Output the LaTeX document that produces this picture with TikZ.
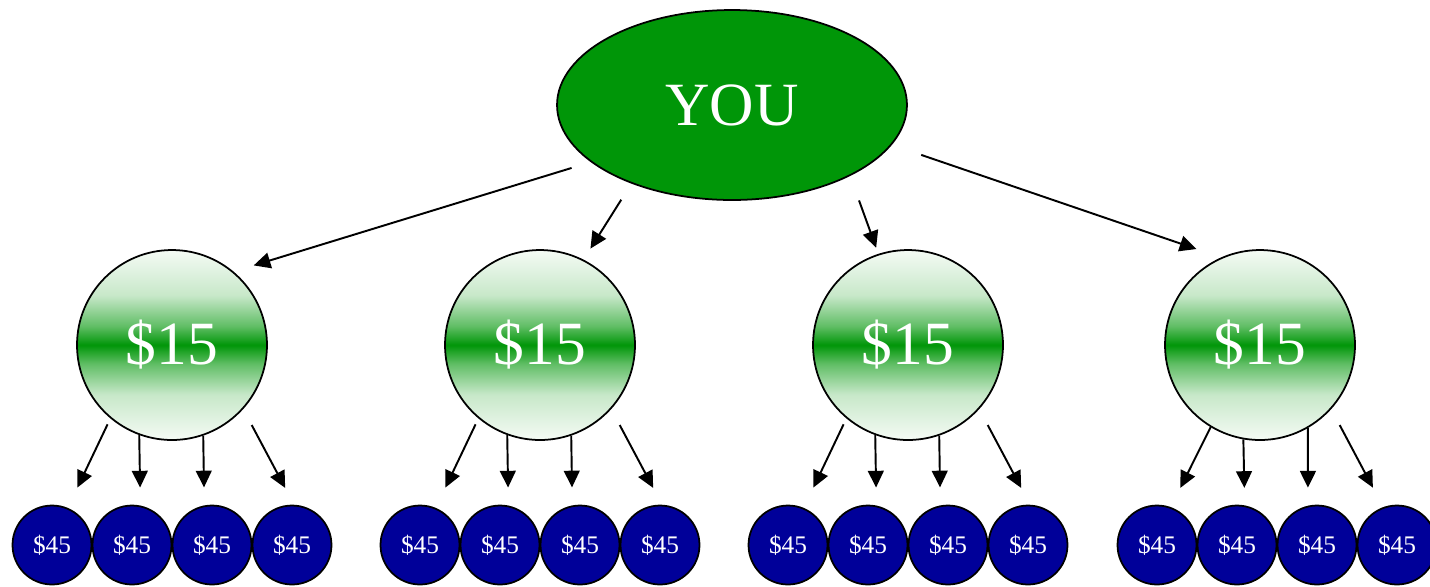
\documentclass[tikz,border=0pt]{standalone}
\usepackage{fontspec}
\setmainfont{Liberation Serif}
\usetikzlibrary{shapes.geometric,arrows.meta}
\definecolor{yougreen}{RGB}{0,150,8}
\definecolor{lowblue}{RGB}{0,0,153}
\pgfdeclareverticalshading{midshade}{100bp}{color(0bp)=(white); color(25bp)=(white!96!yougreen);
  color(37bp)=(yougreen!22); color(45bp)=(yougreen!62); color(50bp)=(yougreen);
  color(55bp)=(yougreen!62); color(63bp)=(yougreen!22); color(75bp)=(white!96!yougreen); color(100bp)=(white)}
\tikzset{
  topnode/.style={ellipse,draw,line width=1pt,fill=yougreen,minimum width=7.0cm,minimum height=3.8cm,
    inner sep=0pt,text=white,font=\fontsize{35}{40}\selectfont},
  midnode/.style={circle,draw,line width=1pt,shade,shading=midshade,
    minimum size=3.8cm,inner sep=0pt,text=white,font=\fontsize{35}{40}\selectfont},
  lownode/.style={circle,draw,line width=1pt,fill=lowblue,minimum size=1.58cm,
    inner sep=0pt,text=white,font=\fontsize{14.4}{16}\selectfont},
  arr/.style={line width=1.1pt,-{Triangle[length=9.5pt,width=9pt]}}
}
\begin{document}
\begin{tikzpicture}[x=0.02cm,y=-0.02cm]
\useasboundingbox (0,0) rectangle (1430,586);

%top node
\node[topnode] (you) at (732,105) {YOU};

%middle row
\node[midnode] (mid1) at (172,345) {\$15};
\node[midnode] (mid2) at (540,345) {\$15};
\node[midnode] (mid3) at (908,345) {\$15};
\node[midnode] (mid4) at (1260,345) {\$15};

%bottom row
\node[lownode] (low11) at (52,545) {\$45};
\node[lownode] (low12) at (132,545) {\$45};
\node[lownode] (low13) at (212,545) {\$45};
\node[lownode] (low14) at (292,545) {\$45};

\node[lownode] (low21) at (420,545) {\$45};
\node[lownode] (low22) at (500,545) {\$45};
\node[lownode] (low23) at (580,545) {\$45};
\node[lownode] (low24) at (660,545) {\$45};

\node[lownode] (low31) at (788,545) {\$45};
\node[lownode] (low32) at (868,545) {\$45};
\node[lownode] (low33) at (948,545) {\$45};
\node[lownode] (low34) at (1028,545) {\$45};

\node[lownode] (low41) at (1157,545) {\$45};
\node[lownode] (low42) at (1237,545) {\$45};
\node[lownode] (low43) at (1317,545) {\$45};
\node[lownode] (low44) at (1397,545) {\$45};

%arrows from the top
\draw[arr, shorten <=0.4cm, shorten >=0.42cm] (you.202.6) -- (mid1.50.4);
\draw[arr, shorten <=0.38cm, shorten >=0.26cm] (you.218.1) -- (mid2.63.5);
\draw[arr, shorten <=0.52cm, shorten >=0.13cm] (you.329.7) -- (mid3.108.9);
\draw[arr, shorten <=0.62cm, shorten >=0.52cm] (you.346.9) -- (mid4.114.4);

%arrows(first group)
\draw[arr, shorten <=0.13cm, shorten >=0.45cm] (mid1.230.5) -- (low11.67.7);
\draw[arr, shorten >=0.36cm] (mid1.250.5) -- (low12.78.5);
\draw[arr, shorten >=0.36cm] (mid1.289.5) -- (low13.101.5);
\draw[arr, shorten <=0.36cm, shorten >=0.38cm] (mid1.318.2) -- (low14.87.3);

%arrows(second group)
\draw[arr, shorten <=0.13cm, shorten >=0.45cm] (mid2.230.5) -- (low21.67.7);
\draw[arr, shorten >=0.36cm] (mid2.250.5) -- (low22.78.5);
\draw[arr, shorten >=0.36cm] (mid2.289.5) -- (low23.101.5);
\draw[arr, shorten <=0.36cm, shorten >=0.38cm] (mid2.318.2) -- (low24.87.3);

%arrows(third group)
\draw[arr, shorten <=0.13cm, shorten >=0.45cm] (mid3.230.5) -- (low31.67.7);
\draw[arr, shorten >=0.36cm] (mid3.250.5) -- (low32.78.5);
\draw[arr, shorten >=0.36cm] (mid3.289.5) -- (low33.101.5);
\draw[arr, shorten <=0.36cm, shorten >=0.38cm] (mid3.318.2) -- (low34.87.3);

%arrows(fourth group)
\draw[arr, shorten >=0.43cm] (mid4.239.2) -- (low41.70.7);
\draw[arr, shorten >=0.35cm] (mid4.260.4) -- (low42.79.9);
\draw[arr, shorten >=0.36cm] (mid4.300) -- (low43.103);
\draw[arr, shorten <=0.36cm, shorten >=0.44cm] (mid4.318.2) -- (low44.110.2);

\end{tikzpicture}
\end{document}
